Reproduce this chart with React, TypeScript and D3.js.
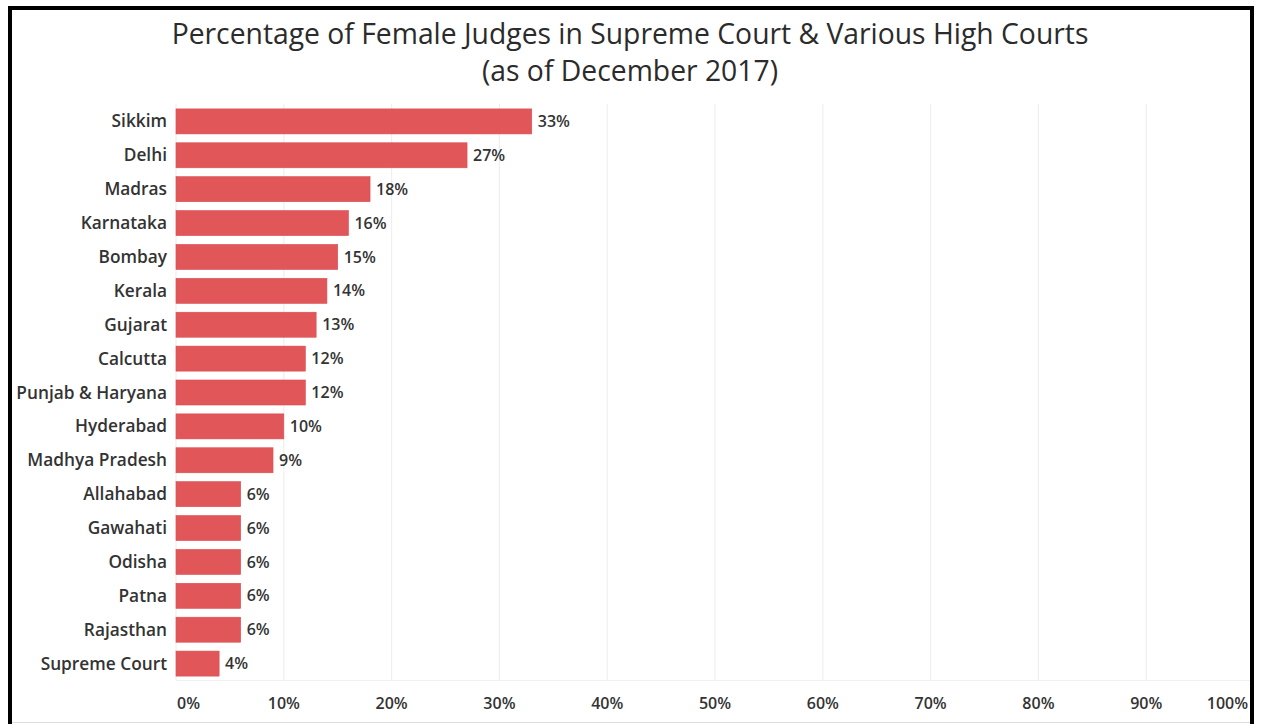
import React, { useEffect, useRef } from 'react';
import * as d3 from 'd3';

const courts = [
  'Sikkim', 'Delhi', 'Madras', 'Karnataka', 'Bombay', 'Kerala', 'Gujarat', 'Calcutta',
  'Punjab & Haryana', 'Hyderabad', 'Madhya Pradesh', 'Allahabad', 'Gawahati', 'Odisha',
  'Patna', 'Rajasthan', 'Supreme Court',
];
const shares = [33, 27, 18, 16, 15, 14, 13, 12, 12, 10, 9, 6, 6, 6, 6, 6, 4];
const ticks = [0, 10, 20, 30, 40, 50, 60, 70, 80, 90, 100];
const titleLines = [
  'Percentage of Female Judges in Supreme Court & Various High Courts',
  '(as of December 2017)',
];

const W = 1261;
const H = 724;

const App: React.FC = () => {
  const ref = useRef<SVGSVGElement>(null);

  useEffect(() => {
    const svg = d3.select(ref.current);
    svg.selectAll('*').remove();

    const font = "'Open Sans', 'Noto Sans', sans-serif";
    const x = d3.scaleLinear().domain([0, 100]).range([176, 1254]);
    const y = d3.scaleBand<string>()
      .domain(courts)
      .range([104.5, 680.5])
      .paddingInner(0.262)
      .paddingOuter(0.13);

    svg.append('rect').attr('width', W).attr('height', H).attr('fill', '#fff');

    svg.append('defs').append('clipPath').attr('id', 'plotclip')
      .append('rect').attr('x', 0).attr('y', 0).attr('width', 1250).attr('height', H);

    const g = svg.append('g').attr('clip-path', 'url(#plotclip)');

    // gridlines
    g.selectAll('line.grid')
      .data(ticks)
      .enter().append('line')
      .attr('x1', d => x(d)).attr('x2', d => x(d))
      .attr('y1', 104).attr('y2', 680)
      .attr('stroke', '#efefef').attr('stroke-width', 1.2);

    g.append('line')
      .attr('x1', x(0)).attr('x2', 1250)
      .attr('y1', 680.5).attr('y2', 680.5)
      .attr('stroke', '#f0f0f0');

    // bars
    const rows = courts.map((c, i) => ({ c, v: shares[i] }));
    g.selectAll('rect.bar')
      .data(rows)
      .enter().append('rect')
      .attr('x', x(0))
      .attr('y', d => y(d.c)!)
      .attr('width', d => x(d.v) - x(0))
      .attr('height', y.bandwidth())
      .attr('fill', '#e15759')
      .attr('stroke', '#dd4b50')
      .attr('stroke-width', 0.6);

    g.selectAll('text.val')
      .data(rows)
      .enter().append('text')
      .attr('x', d => x(d.v) + 6)
      .attr('y', d => y(d.c)! + y.bandwidth() / 2)
      .attr('dy', '0.35em')
      .attr('font-family', font).attr('font-size', 16).attr('font-weight', 600)
      .attr('fill', '#333')
      .text(d => `${d.v}%`);

    // category labels
    svg.selectAll('text.cat')
      .data(rows)
      .enter().append('text')
      .attr('x', 167)
      .attr('y', d => y(d.c)! + y.bandwidth() / 2)
      .attr('dy', '0.35em')
      .attr('text-anchor', 'end')
      .attr('font-family', font).attr('font-size', 17.3).attr('font-weight', 600)
      .attr('fill', '#333')
      .text(d => d.c);

    // x tick labels (first and last nudged inward, as in the original)
    svg.selectAll('text.tick')
      .data(ticks)
      .enter().append('text')
      .attr('x', d => (d === 0 ? x(d) + 1 : d === 100 ? 1248 : x(d)))
      .attr('y', 703)
      .attr('dy', '0.35em')
      .attr('text-anchor', d => (d === 0 ? 'start' : d === 100 ? 'end' : 'middle'))
      .attr('font-family', font).attr('font-size', 16).attr('font-weight', 600)
      .attr('fill', '#333')
      .text(d => `${d}%`);

    // title
    svg.selectAll('text.title')
      .data(titleLines)
      .enter().append('text')
      .attr('x', 630)
      .attr('y', (d, i) => 44 + i * 37)
      .attr('text-anchor', 'middle')
      .attr('font-family', font).attr('font-size', 28.3)
      .attr('fill', '#2b2b2b')
      .text(d => d);

    // frame
    svg.append('rect')
      .attr('x', 10).attr('y', 8)
      .attr('width', 1242).attr('height', H)
      .attr('fill', 'none').attr('stroke', '#000').attr('stroke-width', 4);
    svg.append('line')
      .attr('x1', 12).attr('x2', 1250)
      .attr('y1', 722.5).attr('y2', 722.5)
      .attr('stroke', '#ddd');
  }, []);

  return (
    <svg
      ref={ref}
      width={W}
      height={H}
      style={{ position: 'absolute', left: 0, top: 0, display: 'block' }}
    />
  );
};

export default App;
